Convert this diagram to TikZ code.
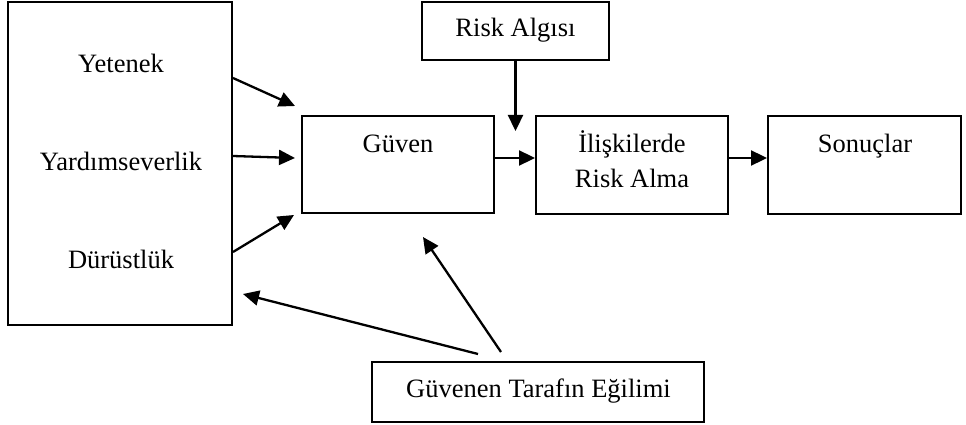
\documentclass[tikz,border=0pt]{standalone}
\usepackage{fontspec}
\setmainfont{Liberation Serif}
\usetikzlibrary{arrows.meta}
\begin{document}
\begin{tikzpicture}[x=1pt,y=-1pt,
  box/.style={draw,line width=2pt,inner sep=0pt},
  lbl/.style={anchor=base,inner sep=0pt,font=\fontsize{26.5}{32}\selectfont},
  arr/.style={line width=2.3pt,-{Triangle[length=16pt,width=15pt]}}]
\useasboundingbox (0,0) rectangle (966,425);
% boxes
\node[box,minimum width=224pt,minimum height=323pt] (left) at (120,163.5) {};
\node[box,minimum width=192pt,minimum height=97pt] (guven) at (398,164.5) {};
\node[box,minimum width=187pt,minimum height=58pt] (risk) at (515.5,31) {};
\node[box,minimum width=192pt,minimum height=98pt] (iliski) at (632,165) {};
\node[box,minimum width=193pt,minimum height=98pt] (sonuc) at (864.5,165) {};
\node[box,minimum width=332pt,minimum height=60pt] (egilim) at (538,392) {};
% texts
\node[lbl] (tyet) at (121,73) {Yetenek};
\node[lbl] (tyar) at (121,170) {Yardımseverlik};
\node[lbl] (tdur) at (121,268) {Dürüstlük};
\node[lbl] (tguv) at (398,153) {Güven};
\node[lbl] (trisk) at (515.5,37) {Risk Algısı};
\node[lbl] (tili1) at (632,153) {İlişkilerde};
\node[lbl] (tili2) at (632,187) {Risk Alma};
\node[lbl] (tson) at (865,152) {Sonuçlar};
\node[lbl] (tegi) at (538.5,397) {Güvenen Tarafın Eğilimi};
% coordinates
\coordinate (r1) at (0,78);
\coordinate (r2) at (0,156);
\coordinate (r3) at (0,252);
\coordinate (r5) at (0,158);
\coordinate (t1) at (295,106);
\coordinate (t2) at (295,158);
\coordinate (t3) at (294,215);
\coordinate (t4) at (515.5,131);
\coordinate (s7) at (478,354);
\coordinate (t7) at (243,294);
\coordinate (s8) at (501,352);
\coordinate (t8) at (423,237);
% arrows
\draw[arr] (left.east |- r1) -- (t1);
\draw[arr] (left.east |- r2) -- (t2);
\draw[arr] (left.east |- r3) -- (t3);
\draw[arr] (risk.south) -- (t4);
\draw[arr] (guven.east |- r5) -- (iliski.west |- r5);
\draw[arr] (iliski.east |- r5) -- (sonuc.west |- r5);
\draw[arr] (s7) -- (t7);
\draw[arr] (s8) -- (t8);
\end{tikzpicture}
\end{document}
